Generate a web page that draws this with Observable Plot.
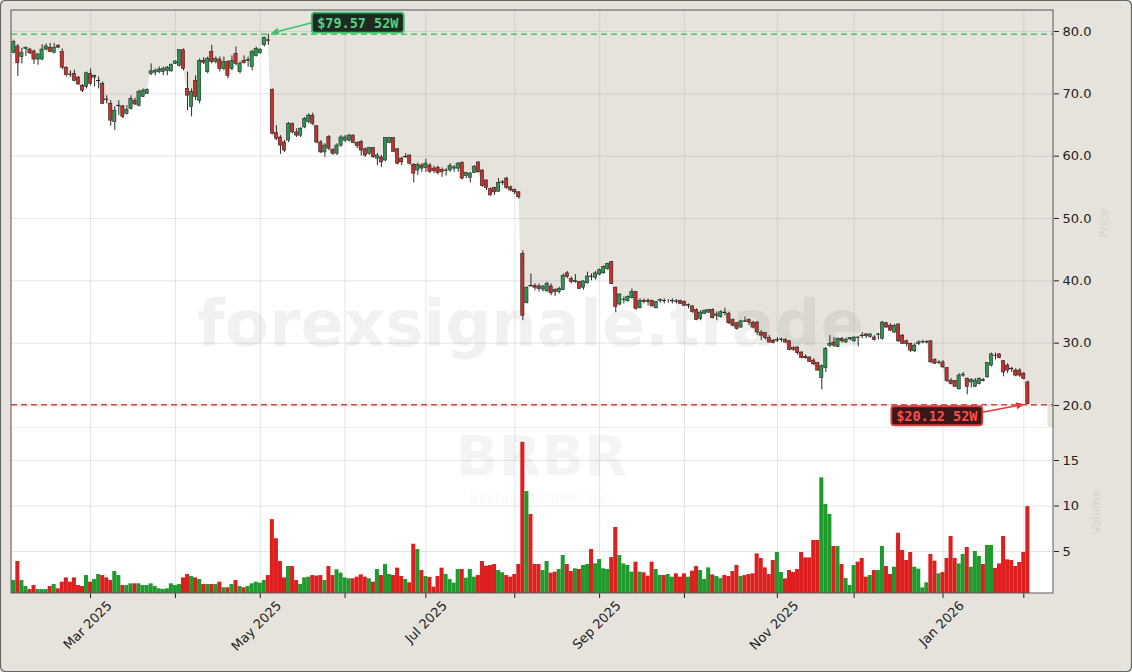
<!DOCTYPE html>
<html><head><meta charset="utf-8">
<script src="https://cdn.jsdelivr.net/npm/d3@7"></script>
<script src="https://cdn.jsdelivr.net/npm/@observablehq/plot@0.6"></script>
<style>
html,body{margin:0;padding:0;background:#e6e3dd;}
#fig{position:relative;width:1132px;height:672px;background:#e6e3dd;overflow:hidden;font-family:"DejaVu Sans",sans-serif;}
#fig svg{position:absolute;left:0;top:0;}
</style></head>
<body><div id="fig"></div>
<script>
// ---------------- data (BRBR daily, Feb 3 2025 – Feb 3 2026) ----------------
const opens = [
76.6,77.6,75.9,77.2,77.1,76.8,75.5,75.5,77.1,77.4,
76.6,77.7,76.7,74.2,73.1,73.2,72.6,71.3,71.1,73.2,
72.6,72.0,71.6,69.1,68.4,65.5,68.0,68.0,66.8,67.6,
68.9,68.1,69.5,70.0,73.2,73.4,73.5,73.5,73.7,73.6,
74.8,74.5,77.0,70.8,67.9,72.1,68.9,75.3,73.5,76.7,
75.1,75.5,74.0,75.1,74.0,76.4,73.5,75.3,75.3,74.3,
76.1,76.5,77.8,78.6,70.6,63.7,63.0,62.2,62.5,65.2,
63.8,63.3,64.6,65.5,66.5,64.8,62.2,60.6,63.1,61.0,
60.4,61.7,62.5,62.5,63.3,62.1,62.3,61.1,60.4,61.3,
59.6,59.8,59.3,62.1,62.9,61.1,59.6,59.8,60.1,58.6,
57.7,58.5,58.1,58.5,58.0,58.1,57.8,57.6,57.7,58.0,
58.0,58.9,56.8,56.5,57.3,59.0,57.7,56.1,54.7,54.9,
54.3,55.7,56.4,55.0,54.6,54.2,44.3,36.4,39.2,39.2,
39.1,38.6,38.3,39.1,38.5,38.2,38.5,41.2,40.3,39.8,
39.8,38.9,39.6,40.7,40.5,41.0,41.2,41.9,43.0,38.9,
36.2,36.9,36.7,37.2,38.2,35.6,36.8,36.8,36.8,35.6,
36.8,36.8,36.8,36.7,36.7,36.8,36.6,36.0,35.9,35.3,
33.9,34.7,34.9,35.3,34.4,34.2,34.9,34.7,33.7,33.2,
32.5,33.5,33.7,33.3,33.3,31.7,31.6,30.8,30.4,30.4,
30.5,30.5,30.3,29.2,29.3,28.5,27.8,27.7,27.2,26.8,
24.4,26.0,29.6,30.1,29.4,30.7,30.1,30.6,30.3,30.9,
31.2,31.4,31.0,30.9,31.3,30.7,33.2,32.8,31.7,33.0,
31.2,30.3,29.9,28.7,29.9,30.1,30.1,30.3,27.3,26.8,
26.9,26.0,24.0,23.9,22.6,24.8,24.3,23.7,23.0,23.45,
24.1,24.5,26.4,28.0,28.2,27.1,26.4,25.9,25.6,25.6,
25.1,23.7
];
const highs = [
78.6,77.9,77.3,77.5,77.3,77.0,76.5,77.9,78.0,78.1,
78.1,77.9,77.2,74.3,73.7,73.8,72.8,71.5,73.5,74.0,
73.0,72.7,71.9,69.7,68.9,67.9,68.9,68.1,68.1,69.7,
69.3,70.6,70.8,70.8,74.8,74.0,74.3,74.3,74.4,74.8,
75.3,77.1,77.2,73.5,70.8,72.9,75.6,75.8,75.9,77.8,
75.9,75.9,75.9,75.3,76.1,77.5,75.1,76.1,75.9,77.0,
77.5,77.2,79.1,79.57,70.8,64.9,63.3,62.5,65.4,65.3,
64.4,64.6,66.2,66.8,66.9,64.9,62.5,62.0,63.3,61.2,
62.0,63.3,63.3,63.5,63.4,62.3,62.5,61.3,61.4,61.4,
60.4,60.1,63.0,63.0,63.0,61.2,59.8,60.4,60.2,58.8,
58.9,58.8,59.5,58.8,58.4,58.4,58.1,58.0,58.8,58.5,
59.0,59.1,57.4,57.4,58.5,59.1,57.8,56.2,54.9,55.0,
56.4,56.1,56.6,55.2,54.7,54.3,44.8,39.0,41.1,39.5,
39.5,39.2,39.8,39.5,38.7,39.0,41.1,41.5,40.6,41.0,
39.9,40.0,41.4,41.1,41.5,41.9,42.4,42.8,43.1,39.0,
37.9,37.4,37.6,38.7,38.3,37.1,37.1,37.1,36.9,36.7,
37.1,37.1,37.0,37.1,37.0,36.9,36.8,36.3,36.0,35.5,
35.2,35.3,35.4,35.5,35.0,35.2,35.6,34.95,33.9,33.3,
33.7,34.2,33.9,33.5,33.5,32.0,31.7,31.2,30.6,30.9,
30.8,30.7,30.4,29.4,29.4,28.6,28.1,27.8,27.5,26.9,
26.5,29.3,31.2,30.9,30.8,30.9,30.8,30.9,31.0,31.0,
31.7,31.5,31.5,31.2,31.6,33.5,33.35,33.1,33.0,33.1,
31.4,30.5,30.0,29.9,30.4,30.5,30.4,30.4,27.5,27.2,
27.2,26.1,24.3,24.0,25.1,25.3,24.4,24.3,24.3,24.4,
24.3,26.9,28.4,28.4,28.3,27.2,26.7,26.1,25.9,25.9,
25.3,23.9
];
const lows = [
76.4,72.8,74.8,76.0,76.3,74.7,74.6,75.3,76.9,76.6,
76.4,77.3,73.9,72.7,72.6,71.9,71.4,70.2,70.8,71.3,
71.1,70.8,68.3,68.4,64.8,64.1,66.5,66.0,66.6,67.4,
68.1,67.9,69.4,69.9,72.9,72.9,73.2,72.9,72.9,73.5,
74.7,74.3,73.7,67.3,66.3,68.9,68.4,74.7,73.2,74.8,
74.8,73.5,73.7,72.4,73.7,74.5,73.2,74.8,74.3,73.7,
75.9,76.4,77.5,77.8,63.4,62.5,60.3,60.6,62.2,63.6,
63.0,63.0,64.4,65.2,64.9,62.0,60.4,59.8,60.9,60.1,
60.1,61.4,62.2,62.3,62.0,61.2,60.0,59.8,60.1,59.7,
58.5,58.2,59.1,62.0,60.6,58.6,58.5,59.7,58.6,55.7,
56.9,57.4,57.4,57.2,57.2,57.0,56.6,56.8,57.4,57.4,
57.4,56.2,56.4,55.7,57.2,57.3,55.0,54.5,53.6,53.7,
54.2,55.3,54.7,54.3,53.8,53.1,33.6,36.3,39.0,38.4,
38.2,38.2,38.2,37.6,37.5,37.9,38.4,40.3,39.5,39.6,
38.6,38.5,39.5,40.0,40.1,40.8,41.1,41.7,39.4,34.9,
36.0,36.3,36.6,37.1,35.3,35.5,36.3,36.0,35.8,35.5,
36.4,36.3,36.4,36.3,36.3,36.2,35.9,35.5,34.8,33.6,
33.6,34.6,34.8,33.9,33.6,34.0,34.4,33.0,32.6,32.1,
32.4,33.3,32.8,32.3,31.2,30.4,30.5,30.0,29.9,30.1,
30.1,30.0,28.8,28.7,28.1,27.5,27.4,26.9,26.4,25.5,
22.5,25.3,29.3,29.3,29.3,30.0,30.0,30.4,30.1,29.4,
30.7,30.7,30.8,30.3,30.5,30.5,32.4,31.9,31.6,30.1,
29.8,29.4,28.5,28.5,29.6,29.9,29.9,26.8,26.55,26.55,
26.0,23.7,23.3,22.9,22.5,24.5,21.7,22.8,22.9,23.3,
23.8,24.4,26.2,27.3,27.5,24.6,25.1,25.3,24.6,24.5,
24.1,20.12
];
const closes = [
78.3,74.9,76.6,77.4,76.5,75.5,76.3,77.1,77.6,76.7,
77.4,77.4,74.2,73.0,73.0,72.1,71.5,70.5,73.3,71.6,
72.9,72.1,68.4,69.0,65.7,67.3,68.1,66.3,67.4,69.2,
68.3,70.3,70.5,70.6,73.6,73.7,73.9,74.0,74.2,74.6,
75.2,77.0,74.0,69.7,70.3,69.5,75.3,75.0,75.6,75.1,
75.6,74.0,75.1,72.9,75.3,74.8,74.8,74.9,75.4,76.7,
77.2,77.1,79.0,78.5,63.6,62.8,61.7,60.9,65.2,63.8,
63.3,64.4,66.0,66.5,65.2,62.2,60.6,61.7,61.2,60.4,
61.7,63.0,63.0,63.3,62.1,61.6,60.9,60.1,61.3,59.8,
60.1,59.0,62.9,62.9,60.7,58.8,59.0,59.9,58.8,57.2,
58.6,58.0,58.8,57.5,57.6,57.3,57.4,57.7,58.4,58.2,
58.8,56.4,57.3,57.2,58.3,57.4,55.2,54.9,53.7,54.2,
55.7,55.8,54.9,54.5,54.2,53.4,34.4,38.9,39.1,38.9,
38.7,39.1,39.5,38.0,38.2,38.7,40.8,40.6,39.8,40.0,
38.7,39.9,40.7,40.6,41.2,41.7,42.2,42.7,39.5,35.8,
37.8,37.0,37.4,38.2,35.5,36.8,36.6,36.6,35.9,36.6,
36.9,36.7,36.8,36.8,36.6,36.3,36.0,36.1,35.0,33.7,
34.9,35.2,35.3,34.0,34.6,34.95,34.8,33.2,32.8,32.3,
33.5,33.4,33.3,32.5,31.7,31.2,30.8,30.1,30.0,30.5,
30.6,30.1,28.9,28.9,28.4,27.6,27.6,27.0,26.6,25.6,
26.3,29.1,29.9,29.6,30.7,30.3,30.5,30.8,30.9,30.8,
31.1,31.1,31.4,30.5,31.4,33.3,32.5,32.0,32.8,30.3,
29.9,29.9,28.8,29.6,30.1,30.15,30.2,26.9,26.7,26.9,
26.1,23.9,23.45,23.0,24.8,24.95,23.0,24.1,24.0,24.3,
23.9,26.8,28.2,27.95,27.6,25.3,25.6,25.8,24.8,24.8,
24.3,20.2
];
// volume, millions of shares
const volumes = [
1.81,3.9,1.81,1.15,0.82,1.26,0.82,0.82,0.82,1.15,
1.37,0.9,1.63,2.1,1.63,2.1,1.26,1.15,2.36,1.63,
1.92,2.47,2.36,2.1,1.81,2.8,2.36,1.26,1.26,1.45,
1.45,1.45,1.26,1.26,1.45,1.15,0.9,0.82,0.9,1.45,
1.26,1.37,2.1,2.47,2.25,2.1,1.92,1.37,1.37,1.37,
1.37,1.63,1.01,1.01,1.37,1.81,1.15,1.01,1.15,1.45,
1.63,1.52,1.81,2.36,8.5,6.4,3.9,2.1,3.35,3.35,
1.81,1.37,2.1,2.18,2.36,2.3,2.36,1.81,3.35,2.36,
2.99,2.62,2.1,2.0,2.0,2.18,2.44,2.18,2.0,1.63,
3.02,2.36,3.57,2.47,2.36,3.17,2.25,1.92,1.56,5.8,
5.22,2.91,2.25,2.14,1.08,2.25,3.17,2.47,1.92,1.52,
3.02,3.02,2.07,3.02,2.18,2.36,3.9,3.39,3.46,3.57,
2.91,2.66,2.36,2.18,2.47,3.57,17.0,11.59,9.07,3.57,
3.57,2.91,3.9,2.62,2.73,3.02,4.56,3.57,2.8,3.1,
3.02,3.46,3.57,5.22,3.64,4.12,3.1,3.02,4.34,7.64,
4.56,3.64,3.46,2.73,3.83,2.73,2.66,2.29,3.83,3.02,
2.36,2.36,2.47,2.18,2.55,2.18,2.55,2.18,2.84,3.35,
2.91,1.92,3.2,2.43,2.25,2.03,2.36,2.25,2.8,3.46,
2.25,2.36,2.47,2.55,4.74,4.23,3.2,2.47,4.01,4.89,
2.69,1.99,2.91,2.69,3.02,4.89,4.3,4.3,6.21,6.21,
13.1,10.16,9.07,5.55,5.55,3.57,2.03,1.26,3.46,3.83,
4.23,2.18,2.36,2.91,2.91,5.55,3.35,2.47,3.28,7.01,
5.11,4.01,4.89,3.28,3.06,1.0,1.56,4.67,3.94,2.55,
2.69,4.23,6.65,4.23,3.64,4.67,5.44,3.28,5.0,4.45,
3.57,5.66,5.66,3.13,3.64,6.65,4.08,4.01,3.35,3.79,
4.89,9.94
];
const firstSession = "2025-02-03";
const marketHolidays = ["2025-02-17","2025-04-18","2025-05-26","2025-06-19","2025-07-04",
  "2025-09-01","2025-11-27","2025-12-25","2026-01-01","2026-01-19"];
const xTickLabels = ["Mar 2025","May 2025","Jul 2025","Sep 2025","Nov 2025","Jan 2026"];
const priceTicks = [20,30,40,50,60,70,80];
const volumeTicks = [5,10,15];
const high52 = 79.57, low52 = 20.12;
const high52Label = "$79.57 52W", low52Label = "$20.12 52W";
const ticker = "BRBR", company = "BellRing Brands, Inc.", watermark = "forexsignale.trade";

// ---------------- derived ----------------
const n = closes.length;
const dates = [];
{
  const d = new Date(firstSession + "T00:00:00Z");
  while (dates.length < n) {
    const iso = d.toISOString().slice(0, 10), dow = d.getUTCDay();
    if (dow !== 0 && dow !== 6 && !marketHolidays.includes(iso)) dates.push(new Date(d));
    d.setUTCDate(d.getUTCDate() + 1);
  }
}
const fmtMonth = d3.utcFormat("%b %Y");
const monthStarts = [];
dates.forEach((d, i) => { if (i > 0 && d.getUTCMonth() !== dates[i - 1].getUTCMonth()) monthStarts.push(i); });
const tickText = i => { const s = fmtMonth(dates[i]); return xTickLabels.includes(s) ? s : ""; };
const labelStarts = monthStarts.filter(i => tickText(i) !== "");

const candles = closes.map((c, i) => ({i, o: opens[i], h: highs[i], l: lows[i], c, v: volumes[i], up: c >= opens[i]}));

const W = 1132, H = 672;
const plotL = 11, plotR = 1053, priceTop = 10, priceBottom = 427, volBottom = 593;
const xDomain = [-0.57, 257.35];
const priceDomain = [16.47, 83.37];
const volDomain = [0.385, 18.63];
const areaData = [{i: xDomain[0], c: closes[0]}, ...candles, {i: n + 4, c: closes[n - 1]}];

const GRID = {stroke: "#a8a8a8", strokeOpacity: 0.38, strokeWidth: 0.8};
const UP = "#2b9650", DOWN = "#c8302c";
const VUP = "#1f9a2c", VDOWN = "#de1f1f";

const price = Plot.plot({
  width: W, height: H,
  marginLeft: plotL, marginRight: W - plotR, marginTop: priceTop, marginBottom: H - priceBottom,
  style: {background: "transparent", color: "#222", fontFamily: "DejaVu Sans"},
  x: {domain: xDomain, axis: null},
  y: {domain: priceDomain, label: null},
  marks: [
    Plot.areaY(areaData, {x: "i", y1: priceDomain[0], y2: "c", fill: "white", clip: true}),
    Plot.ruleY(priceTicks, GRID),
    Plot.ruleX(monthStarts, GRID),
    Plot.text([watermark], {frameAnchor: "middle", dx: -2, dy: 107, fontSize: 64, fontWeight: "bold", fill: "#000", fillOpacity: 0.055}),
    Plot.ruleY([high52], {stroke: "#45c56f", strokeWidth: 1.6, strokeDasharray: "6,4"}),
    Plot.ruleY([low52], {stroke: "#e04545", strokeWidth: 1.6, strokeDasharray: "6,4"}),
    Plot.ruleX(candles, {x: "i", y1: "l", y2: "h", stroke: "#2a2a2a", strokeWidth: 1}),
    Plot.rect(candles, {x1: d => d.i - 0.4, x2: d => d.i + 0.4, y1: "o", y2: "c",
      fill: d => d.up ? UP : DOWN, stroke: "#262626", strokeWidth: 0.6}),
    Plot.axisY({anchor: "right", ticks: priceTicks, tickFormat: d3.format(".1f"), tickSize: 5, tickPadding: 4, fontSize: 13, label: null})
  ]
});

const volume = Plot.plot({
  width: W, height: H,
  marginLeft: plotL, marginRight: W - plotR, marginTop: priceBottom, marginBottom: H - volBottom,
  style: {background: "transparent", color: "#222", fontFamily: "DejaVu Sans"},
  x: {domain: xDomain, label: null},
  y: {domain: volDomain, label: null},
  marks: [
    Plot.frame({fill: "white", stroke: null}),
    Plot.ruleY(volumeTicks, GRID),
    Plot.ruleX(monthStarts, GRID),
    Plot.text([ticker], {frameAnchor: "middle", dx: 9, dy: -53, fontSize: 56, fontWeight: "bold", fill: "#000", fillOpacity: 0.045}),
    Plot.text([company], {frameAnchor: "middle", dx: 9, dy: -12, fontSize: 14, fill: "#000", fillOpacity: 0.05}),
    Plot.rect(candles, {x1: d => d.i - 0.5, x2: d => d.i + 0.5, y1: 0, y2: "v", fill: d => d.up ? VUP : VDOWN, clip: true}),
    Plot.axisY({anchor: "right", ticks: volumeTicks, tickFormat: d => String(d), tickSize: 5, tickPadding: 4, fontSize: 13, label: null}),
    Plot.axisX({ticks: monthStarts, tickFormat: () => "", tickSize: 5, label: null}),
    Plot.axisX({ticks: labelStarts, tickFormat: tickText, tickRotate: -45, tickSize: 0, tickPadding: 2, fontSize: 13, dx: 19, dy: 8, label: null})
  ]
});

const fig = document.getElementById("fig");
fig.appendChild(price);
fig.appendChild(volume);

// ---------------- annotations (52W high / low call-outs) ----------------
const xs = price.scale("x"), ys = price.scale("y");
const svg = d3.select(volume);
function callout(anchorI, anchorV, box, tail, tip, text, col, bg, txtCol) {
  const ax = xs.apply(anchorI), ay = ys.apply(anchorV);
  const g = svg.append("g");
  const x1 = ax + tail[0], y1 = ay + tail[1], x2 = ax + tip[0], y2 = ay + tip[1];
  const ang = Math.atan2(y2 - y1, x2 - x1), L = 8, Wd = 3.5;
  const bx = x2 - L * Math.cos(ang), by = y2 - L * Math.sin(ang);
  g.append("line").attr("x1", x1).attr("y1", y1).attr("x2", bx).attr("y2", by)
    .attr("stroke", col).attr("stroke-width", 1.6);
  g.append("path").attr("d", `M${x2},${y2}L${bx - Wd * Math.sin(ang)},${by + Wd * Math.cos(ang)}L${bx + Wd * Math.sin(ang)},${by - Wd * Math.cos(ang)}Z`)
    .attr("fill", col);
  g.append("rect").attr("x", ax + box[0]).attr("y", ay + box[1]).attr("width", box[2]).attr("height", box[3])
    .attr("rx", 3).attr("fill", bg).attr("stroke", col).attr("stroke-width", 1.8);
  g.append("text").attr("x", ax + box[0] + box[2] / 2).attr("y", ay + box[1] + box[3] / 2)
    .attr("text-anchor", "middle").attr("dominant-baseline", "central")
    .attr("font-family", "DejaVu Sans Mono").attr("font-weight", "bold").attr("font-size", 13.5)
    .attr("fill", txtCol).text(text);
}
const hiIdx = highs.indexOf(d3.max(highs));
const loIdx = lows.indexOf(d3.min(lows));
callout(hiIdx, high52, [44, -21, 92, 20], [44, -11], [3, -0.5], high52Label, "#3dc46a", "#1e2a22", "#4fd47e");
callout(loIdx, low52, [-136, 2, 91, 19], [-45, 8], [-3, 0], low52Label, "#e03a3a", "#3a1818", "#ff4d4d");

// faint side labels
svg.append("text").attr("transform", "translate(1108,223) rotate(-90)").attr("text-anchor", "middle")
  .attr("font-size", 12).attr("fill", "#d6d3cd").text("Price");
svg.append("text").attr("transform", "translate(1100,512) rotate(-90)").attr("text-anchor", "middle")
  .attr("font-size", 12).attr("fill", "#d6d3cd").text("Volume");

// plot frame and figure border
svg.append("rect").attr("x", plotL).attr("y", priceTop).attr("width", plotR - plotL).attr("height", volBottom - priceTop)
  .attr("fill", "none").attr("stroke", "#555").attr("stroke-width", 1);
svg.append("rect").attr("x", 0.5).attr("y", 0.5).attr("width", W - 1).attr("height", H - 1).attr("rx", 5)
  .attr("fill", "none").attr("stroke", "#666").attr("stroke-width", 1.2);
</script>
</body></html>
